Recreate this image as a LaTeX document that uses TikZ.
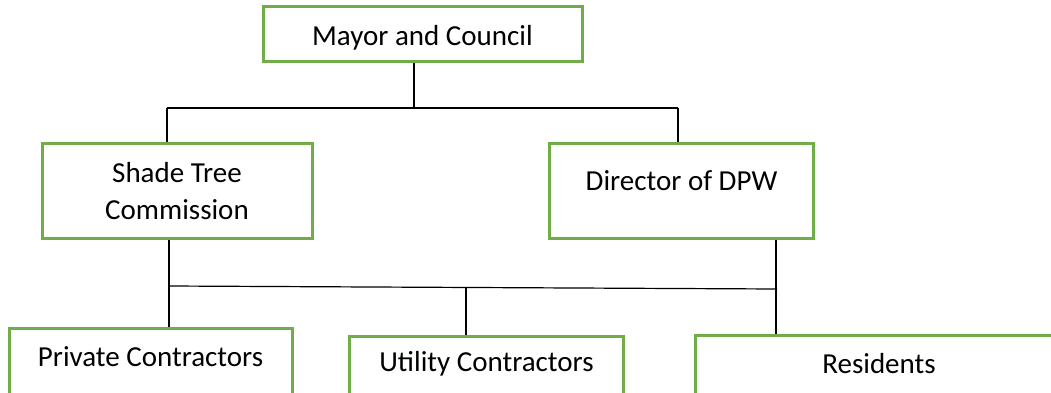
\documentclass[tikz,border=0pt]{standalone}
\usepackage{fontspec}
\setmainfont{Carlito}
\definecolor{boxgreen}{RGB}{112,173,71}
\tikzset{
	orgbox/.style={draw=boxgreen, line width=3pt, rectangle, inner sep=0pt, fill=white},
	orgtext/.style={inner sep=0pt, align=center, font=\fontsize{29}{37}\selectfont},
	link/.style={draw=black, line width=1.2pt}
}

\begin{document}
\begin{tikzpicture}[x=1pt, y=-1pt]
	\useasboundingbox (0, 0) rectangle (1051, 393);
	\clip (0, 0) rectangle (1051, 393);

	\node[orgbox, minimum width=319, minimum height=55] (mayor) at (422.5, 34.5) {};
	\node[orgbox, minimum width=270, minimum height=95] (shade) at (177, 190.5) {};
	\node[orgbox, minimum width=264, minimum height=95] (director) at (681, 190.5) {};
	\node[orgbox, minimum width=283, minimum height=100] (private) at (150.5, 378) {};
	\node[orgbox, minimum width=274, minimum height=100] (utility) at (486, 386) {};
	\node[orgbox, minimum width=370, minimum height=100] (residents) at (880, 385) {};

	\node[orgtext] (mayorlbl) at (422.5, 38) {Mayor and Council};
	\node[orgtext] (shadelbl) at (177, 191.5) {Shade Tree\\Commission};
	\node[orgtext] (directorlbl) at (681.5, 181) {Director of DPW};
	\node[orgtext] (privatelbl) at (150.5, 357) {Private Contractors};
	\node[orgtext] (utilitylbl) at (486.5, 364) {Utility Contractors};
	\node[orgtext] (residentslbl) at (879, 363.5) {Residents};

	\coordinate (topjoin) at (414, 108);
	\coordinate (topleft) at (167, 108);
	\coordinate (topright) at (678, 108);
	\coordinate (lowleft) at (169, 286);
	\coordinate (lowmid) at (466, 288);
	\coordinate (lowright) at (777, 289);

	\draw[link] (mayor.south -| topjoin) -- (topjoin);
	\draw[link] (topleft) -- (topright);
	\draw[link] (topleft) -- (shade.north -| topleft);
	\draw[link] (topright) -- (director.north -| topright);

	\draw[link] (shade.south -| lowleft) -- (private.north -| lowleft);
	\draw[link] (lowleft) -- (lowright);
	\draw[link] (lowmid) -- (utility.north -| lowmid);
	\draw[link] (director.south -| 776, 0) -- (residents.north -| 776, 0);

\end{tikzpicture}
\end{document}
